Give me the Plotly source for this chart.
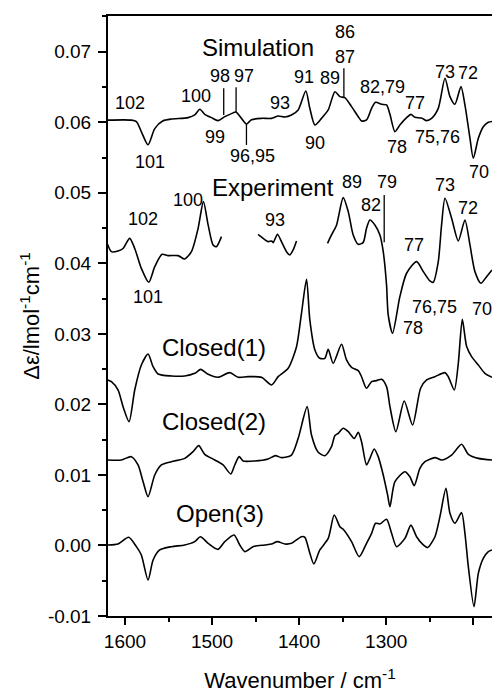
import plotly.graph_objects as go

# ---------------- data (wavenumber / cm-1, delta-epsilon) ----------------
sim_wn = [1620, 1592.7, 1586.9, 1580.4, 1573.5, 1565.8, 1556.3, 1546.7, 1527.5, 1519.9, 1514.1, 1508.4,
          1500.7, 1493.1, 1485.4, 1477.7, 1472.7, 1466.2, 1460.5, 1454.7, 1443.2, 1431.7, 1424.1, 1416.4,
          1408.8, 1401.1, 1392.3, 1387.7, 1381.9, 1374.3, 1366.6, 1358.9, 1353.2, 1347.5, 1339.8, 1332.1,
          1328.3, 1322.6, 1316.8, 1312.2, 1305.3, 1299.6, 1295.7, 1290.0, 1284.3, 1276.6, 1271.6, 1267.0,
          1259.4, 1253.6, 1247.9, 1240.2, 1232.5, 1226.8, 1221.1, 1214.1, 1209.6, 1203.8, 1200.0, 1194.2,
          1188.5, 1182.7, 1178.5]
sim_de = [0.0603, 0.0603, 0.0601, 0.05843, 0.0568, 0.0591, 0.0602, 0.06046, 0.06065, 0.06103, 0.06183, 0.06112,
          0.06065, 0.06023, 0.06079, 0.06122, 0.06145, 0.06055, 0.05975, 0.06035, 0.06055, 0.06055, 0.06088, 0.06074,
          0.06103, 0.06174, 0.06443, 0.06197, 0.05961, 0.06055, 0.06174, 0.06433, 0.06363, 0.06348, 0.06221, 0.06079,
          0.06018, 0.06032, 0.06197, 0.06282, 0.06254, 0.06245, 0.06112, 0.05867, 0.05961, 0.06065, 0.06112, 0.0607,
          0.0606, 0.06023, 0.06055, 0.06197, 0.06623, 0.06363, 0.06254, 0.06505, 0.06245, 0.05772, 0.05489, 0.05772,
          0.05937, 0.05999, 0.0601]

exp1_wn = [1620, 1615.6, 1608.0, 1602.2, 1594.6, 1588.8, 1581.2, 1572.7, 1565.8, 1557.4, 1550.5, 1539.0,
           1531.4, 1523.7, 1516.0, 1509.9, 1504.5, 1498.8, 1495.0, 1489.2]
exp1_de = [0.0427, 0.04165, 0.04175, 0.0421, 0.04354, 0.0421, 0.03929, 0.03731, 0.03953, 0.04128, 0.04109, 0.04109,
           0.04062, 0.04165, 0.04496, 0.04874, 0.04544, 0.0426, 0.04236, 0.04378]

exp2_wn = [1447.1, 1441.3, 1435.6, 1431.7, 1429.8, 1424.9, 1420.3, 1414.5, 1410.7, 1406.9, 1403.0]
exp2_de = [0.04411, 0.04354, 0.04307, 0.04317, 0.04293, 0.04411, 0.04307, 0.04165, 0.04118, 0.04189, 0.04317]

exp3_wn = [1367.4, 1362.8, 1357.0, 1349.4, 1343.6, 1337.9, 1332.1, 1326.4, 1322.6, 1318.7, 1313.0, 1307.2,
           1303.4, 1299.6, 1297.7, 1292.7, 1284.3, 1276.6, 1265.1, 1257.4, 1249.8, 1246.0, 1240.2, 1236.4,
           1232.5, 1224.9, 1217.2, 1209.6, 1203.8, 1198.1, 1191.2, 1184.7, 1178.5]
exp3_de = [0.04283, 0.04402, 0.04544, 0.04931, 0.04733, 0.04402, 0.04269, 0.04297, 0.04496, 0.04614, 0.04544, 0.04402,
           0.04165, 0.03693, 0.03268, 0.03008, 0.03527, 0.03859, 0.04024, 0.03882, 0.0375, 0.03731, 0.04024, 0.04544,
           0.04922, 0.04639, 0.04317, 0.04615, 0.0426, 0.03882, 0.03717, 0.03811, 0.03905]

c1_wn = [1620, 1615.6, 1608.0, 1602.2, 1595.3, 1588.8, 1581.2, 1573.5, 1567.7, 1562.0, 1546.7, 1531.4,
         1519.9, 1513.0, 1504.5, 1493.1, 1479.6, 1470.1, 1458.6, 1443.2, 1431.7, 1424.1, 1412.6, 1403.0,
         1397.3, 1391.5, 1387.7, 1381.9, 1376.2, 1370.5, 1366.6, 1360.9, 1351.3, 1345.6, 1339.8, 1332.1,
         1328.3, 1322.6, 1316.8, 1311.1, 1305.3, 1299.6, 1295.7, 1288.9, 1279.3, 1269.7, 1260.5, 1253.6,
         1244.0, 1232.5, 1228.7, 1221.8, 1217.2, 1212.6, 1207.6, 1201.9, 1194.2, 1186.6, 1178.5]
c1_de = [0.02346, 0.02322, 0.02204, 0.01968, 0.01755, 0.02204, 0.02558, 0.02714, 0.02534, 0.02431, 0.02403, 0.02403,
         0.0244, 0.02497, 0.02426, 0.02384, 0.0245, 0.02384, 0.02393, 0.02384, 0.02275, 0.02393, 0.02511, 0.02818,
         0.03291, 0.03774, 0.03197, 0.02771, 0.02653, 0.02653, 0.02781, 0.02583, 0.02852, 0.0263, 0.02526, 0.02478,
         0.02392, 0.02228, 0.02323, 0.02337, 0.02356, 0.02252, 0.01968, 0.01613, 0.02048, 0.01708, 0.02229, 0.02346,
         0.02393, 0.0245, 0.02392, 0.02204, 0.02582, 0.03207, 0.02819, 0.02677, 0.02558, 0.0244, 0.02384]

c2_wn = [1620, 1604.2, 1592.7, 1585.0, 1579.2, 1573.5, 1565.8, 1558.2, 1546.7, 1531.4, 1521.8, 1515.3,
         1508.4, 1496.9, 1487.3, 1478.5, 1473.9, 1468.9, 1464.3, 1450.9, 1435.6, 1427.2, 1420.3, 1408.8,
         1401.1, 1390.8, 1385.8, 1378.1, 1370.5, 1362.8, 1359.0, 1355.1, 1349.4, 1343.6, 1336.7, 1332.1,
         1328.3, 1322.6, 1318.7, 1313.8, 1309.2, 1303.4, 1298.4, 1295.7, 1290.0, 1278.5, 1272.8, 1267.8,
         1261.3, 1255.5, 1244.0, 1236.4, 1224.9, 1213.4, 1205.7, 1194.2, 1178.5]
c2_de = [0.01212, 0.01212, 0.01259, 0.01141, 0.00904, 0.00692, 0.00999, 0.01141, 0.01188, 0.01235, 0.0133, 0.01415,
         0.01292, 0.01212, 0.01141, 0.01014, 0.01141, 0.01259, 0.01198, 0.01198, 0.01226, 0.01273, 0.01245, 0.01282,
         0.01518, 0.01968, 0.01566, 0.01321, 0.01273, 0.01401, 0.01556, 0.0159, 0.01661, 0.01613, 0.01518, 0.01603,
         0.01471, 0.01141, 0.01235, 0.01368, 0.01259, 0.00999, 0.00716, 0.0055, 0.00904, 0.01046, 0.00975, 0.00848,
         0.01093, 0.01188, 0.01245, 0.01212, 0.01282, 0.01434, 0.01292, 0.01235, 0.01212]

o3_wn = [1620, 1608.0, 1595.7, 1586.9, 1581.2, 1573.5, 1567.7, 1560.1, 1546.7, 1531.4, 1519.9, 1513.4,
         1504.5, 1493.1, 1485.4, 1474.7, 1468.2, 1462.4, 1452.8, 1439.4, 1431.7, 1424.9, 1416.4, 1408.8,
         1397.3, 1393.4, 1387.7, 1383.1, 1376.2, 1366.6, 1359.7, 1353.2, 1349.4, 1339.8, 1331.0, 1322.6,
         1316.8, 1312.2, 1307.2, 1299.6, 1293.8, 1288.1, 1278.5, 1271.6, 1265.1, 1257.4, 1252.5, 1244.0,
         1238.3, 1231.4, 1226.8, 1221.1, 1213.4, 1209.6, 1205.7, 1199.2, 1194.2, 1188.5, 1182.7, 1178.5]
o3_de = [0.00007, 0.00021, 0.00116, -0.00017, -0.00135, -0.0049, -0.00206, -0.00064, -0.00017, 0.00007, 0.00054, 0.00124,
         0.0003, -0.00055, 0.00054, 0.00149, 0.00007, -0.00087, -0.00017, 0.00007, 0.00021, 0.00054, 0.00021, 0.0003,
         0.00124, 0.00116, -0.00111, -0.00262, -0.00064, 0.001, 0.00432, 0.00267, 0.00229, 0.00054, -0.00158, 0.0003,
         0.00172, 0.00314, 0.00305, 0.00371, 0.00172, -0.00017, 0.001, 0.00289, 0.00124, 0.00007, -0.0003, 0.00124,
         0.00408, 0.00811, 0.00456, 0.00314, 0.00465, 0.00172, -0.003, -0.00868, -0.00395, -0.00182, -0.00087, -0.00064]

# series names and their label anchor points
name_text = ["Simulation", "Experiment", "Closed(1)", "Closed(2)", "Open(3)"]
name_wn = [1447, 1430, 1498, 1498, 1491]
name_de = [0.07057, 0.05078, 0.0281, 0.01755, 0.00456]

# peak assignment labels
peak_text = ["102", "101", "100", "98", "97", "99", "96,95", "93", "91", "90", "89", "86", "87",
             "82,79", "77", "78", "75,76", "73", "72", "70",
             "89", "79", "82", "73", "72", "102", "100", "93", "101", "77", "76,75", "70", "78"]
peak_wn = [1594.6, 1570.8, 1517.9, 1491.2, 1463.2, 1496.9, 1454.0, 1422.2, 1394.6, 1381.9, 1364.7, 1347.5, 1347.5,
           1304.1, 1267.0, 1288.0, 1241.4, 1232.5, 1205.7, 1193.1,
           1339.8, 1299.5, 1317.9, 1232.5, 1205.7, 1579.3, 1527.6, 1427.9, 1573.6, 1267.8, 1244.0, 1190.3, 1269.7]
peak_de = [0.06269, 0.05441, 0.06372, 0.06656, 0.06656, 0.05795, 0.05526, 0.06269, 0.06646, 0.0571, 0.06623, 0.07275, 0.06921,
           0.06504, 0.06269, 0.05654, 0.05787, 0.06717, 0.06694, 0.05299,
           0.05157, 0.05157, 0.04827, 0.05111, 0.0478, 0.04629, 0.04898, 0.04615, 0.03527, 0.0426, 0.03377, 0.03353, 0.03079]

# leader lines (wavenumber, lower, upper)
lead_wn = [1486.6, 1472.4, 1460.5, 1348.6, 1302.3]
lead_lo = [0.06103, 0.06140, 0.05678, 0.06362, 0.04298]
lead_hi = [0.06481, 0.06495, 0.05975, 0.06765, 0.04969]

xtick_vals = [1600, 1500, 1400, 1300, 1200]
ytick_vals = [-0.01, 0.0, 0.01, 0.02, 0.03, 0.04, 0.05, 0.06, 0.07]
ytick_text = ["-0.01", "0.00", "0.01", "0.02", "0.03", "0.04", "0.05", "0.06", "0.07"]

# ---------------- figure ----------------
FONT = "Arial, 'Liberation Sans', Helvetica, sans-serif"
line_style = dict(color="black", width=1.6, shape="spline", smoothing=0.7)

fig = go.Figure()
for xs, ys in [(sim_wn, sim_de), (exp1_wn, exp1_de), (exp2_wn, exp2_de), (exp3_wn, exp3_de),
               (c1_wn, c1_de), (c2_wn, c2_de), (o3_wn, o3_de)]:
    fig.add_trace(go.Scatter(x=xs, y=ys, mode="lines", line=line_style, showlegend=False,
                             hoverinfo="skip"))

annotations = []
for t, x, y in zip(name_text, name_wn, name_de):
    annotations.append(dict(x=x, y=y, xref="x", yref="y", text=t, showarrow=False,
                            xanchor="center", yanchor="middle",
                            font=dict(family=FONT, size=24, color="black")))
for t, x, y in zip(peak_text, peak_wn, peak_de):
    annotations.append(dict(x=x, y=y, xref="x", yref="y", text=t, showarrow=False,
                            xanchor="center", yanchor="middle",
                            font=dict(family=FONT, size=18, color="black")))

shapes = []
for x, y0, y1 in zip(lead_wn, lead_lo, lead_hi):
    shapes.append(dict(type="line", xref="x", yref="y", x0=x, x1=x, y0=y0, y1=y1,
                       line=dict(color="black", width=1.3)))

fig.update_layout(
    width=492, height=694,
    margin=dict(l=108, r=0, t=16, b=78),
    paper_bgcolor="white", plot_bgcolor="white",
    font=dict(family=FONT, color="black"),
    annotations=annotations, shapes=shapes,
    showlegend=False,
)
fig.update_xaxes(
    range=[1619.5, 1178.5], tickvals=xtick_vals, ticks="outside", ticklen=7, tickwidth=1.5,
    tickcolor="black", showline=True, linewidth=2, linecolor="black", mirror=True,
    showgrid=False, zeroline=False, tickfont=dict(size=19, family=FONT),
    ticklabelstandoff=0,
    minor=dict(ticks="outside", ticklen=4, dtick=50, tick0=1200, tickwidth=1.5, tickcolor="black", showgrid=False),
    title=dict(text="Wavenumber / cm<sup>-1</sup>", font=dict(size=22, family=FONT), standoff=22),
)
fig.update_yaxes(
    range=[-0.01, 0.07506], tickvals=ytick_vals, ticktext=ytick_text, ticks="outside", ticklen=8, tickwidth=1.5,
    tickcolor="black", showline=True, linewidth=2, linecolor="black", mirror=False,
    showgrid=False, zeroline=False, tickfont=dict(size=19, family=FONT),
    ticklabelstandoff=3,
    minor=dict(ticks="outside", ticklen=4, dtick=0.005, tick0=0, tickwidth=1.5, tickcolor="black", showgrid=False),
    title=dict(text="Δε/lmol<sup>-1</sup>cm<sup>-1</sup>", font=dict(size=22, family=FONT), standoff=2),
)

fig.write_html(
    "out.html",
    config={"displayModeBar": False},
    post_script="document.body.style.margin='0px';document.body.style.overflow='hidden';",
)
